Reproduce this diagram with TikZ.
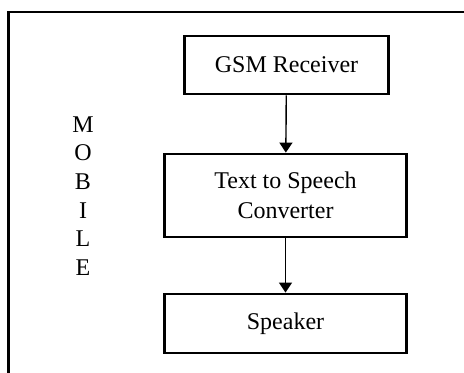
\documentclass[tikz,border=0pt]{standalone}
\usepackage{fontspec}
\setmainfont{Liberation Serif}
\usepackage{tikz}
\usetikzlibrary{arrows.meta}

\begin{document}
\begin{tikzpicture}[
  x=0.5pt, y=0.5pt,
  blk/.style={draw, line width=1.4pt, inner sep=0pt, align=center,
    font=\fontsize{12}{15}\selectfont},
  arr/.style={-{Triangle[width=6.5pt,length=5pt]}, line width=0.7pt},
  frame/.style={line width=1.3pt},
  lbl/.style={align=center, font=\fontsize{12}{14.3}\selectfont}
]
\useasboundingbox (0,0) rectangle (464,373);

% mobile frame (only top and left edges are visible)
\draw[frame] (8.5,0) |- (464,361);

\node[lbl] (mob) at (83,177) {M\\O\\B\\I\\L\\E};

\node[blk, minimum width=102pt, minimum height=29pt] (gsm) at (286.5,308) {GSM Receiver};
\node[blk, minimum width=121pt, minimum height=41.5pt] (tts) at (285.5,177.5) {Text to Speech\\Converter};
\node[blk, minimum width=121pt, minimum height=29.5pt] (spk) at (285.5,49.5) {Speaker};

\draw[arr] (gsm) -- (tts);
\draw[arr] (tts) -- (spk);

\end{tikzpicture}
\end{document}
